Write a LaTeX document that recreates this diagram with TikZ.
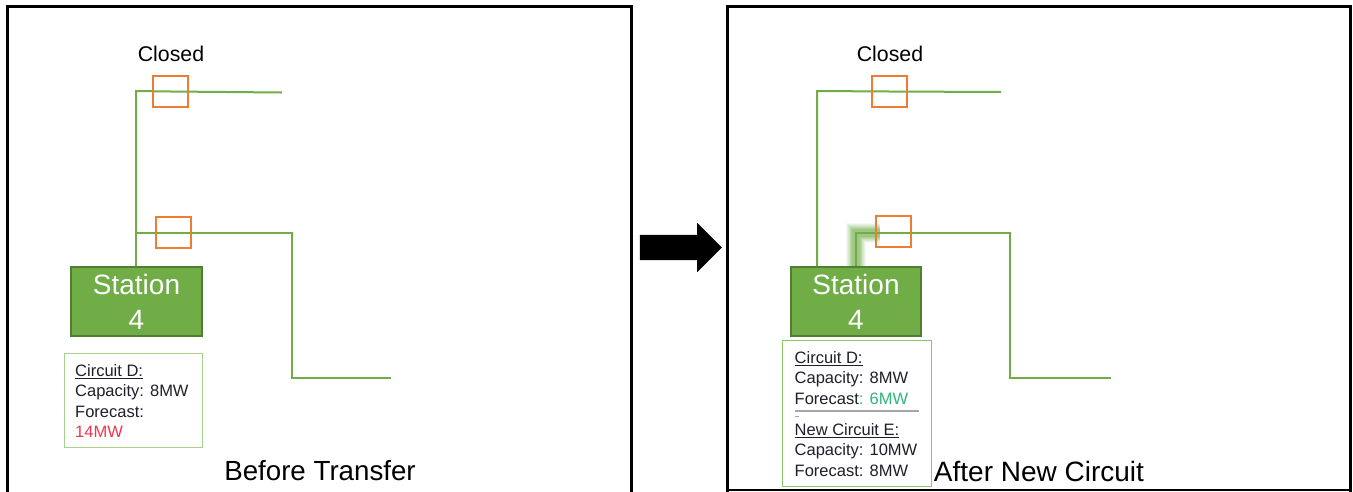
\documentclass[tikz,border=0pt]{standalone}
\usepackage{fontspec}
\setmainfont{Liberation Sans}
\usetikzlibrary{shapes.arrows,calc}
\definecolor{wire}{HTML}{70AD47}
\definecolor{darkwire}{HTML}{507E32}
\definecolor{sw}{HTML}{ED7D31}
\definecolor{boxline}{HTML}{A9D18E}
\definecolor{boxlineb}{HTML}{8CC56C}
\definecolor{txt}{HTML}{1F1F2A}
\tikzset{x=1pt,y=-1pt,
 panel/.style={draw=black,line width=3pt,fill=white},
 wireline/.style={draw=wire,line width=2pt},
 switchbox/.style={draw=sw,line width=2.1pt,minimum width=35pt,minimum height=31pt,inner sep=0pt},
 station/.style={draw=darkwire,fill=wire,line width=2pt,minimum width=130pt,minimum height=69pt,inner sep=0pt,text=white,font=\fontsize{28}{36}\selectfont,align=center},
 lbl/.style={inner sep=0pt,text=black},
 infobox/.style={draw=boxlineb,line width=1.1pt,inner sep=0pt,anchor=north west,fill=none},
 infotext/.style={inner sep=0pt,anchor=north west,text=txt,font=\fontsize{16.5}{20.5}\selectfont,align=left},
}
\begin{document}
\begin{tikzpicture}
\useasboundingbox (0,0) rectangle (1353,491);
\fill[white] (0,0) rectangle (1353,491);
\coordinate (lnw) at (7.5,6); 
\coordinate (rnw) at (727,6); 
\draw[panel] (7.5,500) -- (lnw) -- (631.5,6) -- (631.5,500);
\draw[panel] (727,500) -- (rnw) -- (1350.5,6) -- (1350.5,500);
\draw[black,line width=1.6pt] (727,490) -- (1350.5,490);
% left panel
\node[station,minimum width=131pt] (stL) at (136.500,301.5) {Station\\[-1pt]4};
\node[switchbox] (swLa) at (170.500,91.500) {};
\node[switchbox] (swLb) at (173.500,232.500) {};
\coordinate (eLa) at (282,92.500);
\coordinate (jLa) at (136,91);
\coordinate (jLb) at (136,233);
\coordinate (cLb) at (292,233);
\coordinate (dLb) at (292,378);
\coordinate (eLb) at (391,378);
\draw[wireline] (jLb) -- (jLa) -- (swLa.center) -- (eLa);
\draw[wireline] (jLb) -- (cLb) -- (dLb) -- (eLb);
\draw[wireline] (stL.north -| jLb) -- (jLb);
\node[switchbox] at (swLa) {};
\node[switchbox] at (swLb) {};
\node[lbl,font=\fontsize{21.3}{24}\selectfont] (clL) at (171,54) {Closed};
\node[infobox,minimum width=138pt,minimum height=94pt,draw=boxline] (boxL) at (64,353) {};
\node[infotext] (tL) at (75,364) {\underline{Circuit D:}\\Capacity: 8MW\\Forecast:\\\textcolor[HTML]{F0364F}{14MW}};
\node[lbl,font=\fontsize{27.7}{30}\selectfont] (capL) at (320,471) {Before Transfer};
% arrow
\node[single arrow,fill=black,minimum height=82pt,minimum width=49pt,single arrow head extend=12pt,single arrow tip angle=90,inner xsep=0pt,inner ysep=12.5pt] (arr) at (674.500,247.500) {};
% right panel
\node[station] (stR) at (856,301.5) {Station\\[-1pt]4};
\node[switchbox] (swRa) at (889.5,91.5) {};
\node[switchbox] (swRb) at (893.5,231.500) {};
\coordinate (eRa) at (1001,92);
\coordinate (jRa) at (817,91);
\coordinate (jRb) at (856,233);
\coordinate (cRb) at (1010,233);
\coordinate (dRb) at (1010,378);
\coordinate (eRb) at (1111,378);
\coordinate (gRb) at (880,233);
\foreach \w/\o in {20/.07,18/.09,16/.11,14/.13,12/.16,10/.2,8/.25}
  \draw[draw=wire,line width=\w pt,opacity=\o] (stR.north -| jRb) -- (jRb) -- (gRb);
\draw[wireline] (stR.north -| jRa) -- (jRa) -- (swRa.center) -- (eRa);
\draw[wireline] (stR.north -| jRb) -- (jRb) -- (cRb) -- (dRb) -- (eRb);
\node[switchbox] at (swRa) {};
\node[switchbox] at (swRb) {};
\node[lbl,font=\fontsize{21.3}{24}\selectfont] (clR) at (890,54) {Closed};
\node[infobox,minimum width=149pt,minimum height=146pt,fill=white] (boxR) at (782,340) {};
\node[infotext] (tR) at (794.500,351) {\underline{Circuit D:}\\Capacity: 8MW\\Forecast\textcolor[HTML]{2FB67A}{: 6MW}};
\coordinate (ruleA) at (794.500,411);
\coordinate (ruleB) at (919,411);
\coordinate (ruleC) at (794.500,416);
\coordinate (ruleD) at (799,416);
\draw[gray!70,line width=1.2pt] (ruleA) -- (ruleB);
\draw[gray!70,line width=.8pt] (ruleC) -- (ruleD);
\node[infotext] (tRb) at (794.500,423) {\underline{New Circuit E:}\\Capacity: 10MW\\Forecast: 8MW};
\node[lbl,font=\fontsize{28}{30}\selectfont] (capR) at (1039,471) {After New Circuit};
\end{tikzpicture}
\end{document}
